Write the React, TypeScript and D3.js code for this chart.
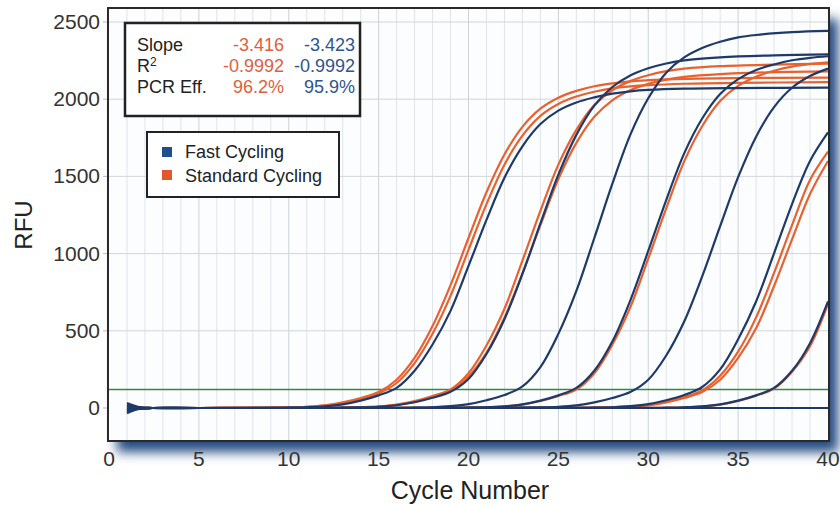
import React, { useEffect, useRef } from "react";
import * as d3 from "d3";

// axis ticks
const xTicks = [0, 5, 10, 15, 20, 25, 30, 35, 40];
const yTicks = [0, 500, 1000, 1500, 2000, 2500];
const thresholdRfu = 120;

// amplification curves, [cycle, RFU]
const fast1 = [[1, 32], [1.6, 8], [2.4, 0], [5, 0], [8, 1], [9, 1], [10, 2], [11, 5], [12, 11], [13, 24], [14, 48], [15, 82], [16, 130], [17, 241], [18, 411], [19, 629], [20, 920], [21, 1218], [22, 1491], [23, 1695], [24, 1839], [25, 1926], [26, 1979], [27, 2012], [28, 2036], [29, 2051], [30, 2060], [32, 2068], [35, 2072], [40, 2075]];
const fast2 = [[1, 20], [1.6, 5], [2.4, 0], [5, 0], [12, 1], [13, 2], [14, 4], [15, 8], [16, 18], [17, 37], [18, 66], [19, 105], [20, 188], [21, 350], [22, 575], [23, 868], [24, 1195], [25, 1511], [26, 1769], [27, 1958], [28, 2079], [29, 2154], [30, 2200], [31, 2231], [32, 2252], [34, 2271], [37, 2284], [40, 2290]];
const fast3 = [[1, 8], [1.6, 2], [2.4, 0], [5, 0], [16, 1], [17, 2], [18, 5], [19, 12], [20, 25], [21, 50], [22, 84], [23, 140], [24, 265], [25, 480], [26, 758], [27, 1101], [28, 1451], [29, 1769], [30, 2006], [31, 2172], [32, 2271], [33, 2332], [34, 2372], [35, 2400], [36, 2416], [38, 2434], [40, 2442]];
const fast4 = [[1, -6], [1.6, -2], [2.4, 0], [5, 0], [19, 1], [20, 2], [21, 5], [22, 11], [23, 24], [24, 48], [25, 82], [26, 130], [27, 241], [28, 430], [29, 696], [30, 1017], [31, 1347], [32, 1649], [33, 1875], [34, 2034], [35, 2130], [36, 2189], [37, 2225], [38, 2252], [39, 2268], [40, 2278]];
const fast5 = [[1, -16], [1.6, -4], [2.4, 0], [5, 0], [22, 1], [23, 2], [24, 4], [25, 8], [26, 17], [27, 36], [28, 65], [29, 103], [30, 183], [31, 340], [32, 560], [33, 852], [34, 1178], [35, 1495], [36, 1757], [37, 1949], [38, 2074], [39, 2150], [40, 2198]];
const fast6 = [[1, -26], [1.6, -6], [2.4, 0], [5, 0], [26, 1], [27, 2], [28, 5], [29, 12], [30, 25], [31, 50], [32, 84], [33, 136], [34, 250], [35, 445], [36, 690], [37, 1002], [38, 1321], [39, 1600], [40, 1785]];
const fast7 = [[1, -34], [1.6, -8], [2.4, 0], [5, 0], [30, 1], [31, 2], [32, 5], [33, 11], [34, 24], [35, 48], [36, 82], [37, 130], [38, 241], [39, 420], [40, 690]];
const fastNtc = [[1, -14], [1.6, -3], [2.4, 0], [5, 0], [20, 0], [40, 0]];

const standard1a = [[1, 14], [1.6, 3], [2.4, 0], [5, 0], [8, 1], [9, 2], [10, 4], [11, 8], [12, 17], [13, 36], [14, 65], [15, 103], [16, 183], [17, 324], [18, 531], [19, 796], [20, 1101], [21, 1397], [22, 1642], [23, 1821], [24, 1939], [25, 2010], [26, 2054], [27, 2084], [28, 2103], [29, 2116], [30, 2123], [32, 2132], [35, 2137], [40, 2140]];
const standard1b = [[1, 6], [1.6, 1], [2.4, 0], [5, 0], [8, 1], [9, 1], [10, 3], [11, 7], [12, 15], [13, 31], [14, 58], [15, 95], [16, 162], [17, 291], [18, 481], [19, 726], [20, 1024], [21, 1320], [22, 1576], [23, 1764], [24, 1892], [25, 1969], [26, 2017], [27, 2048], [28, 2070], [29, 2083], [30, 2091], [32, 2100], [35, 2106], [40, 2110]];
const standard2a = [[1, 4], [1.6, 1], [2.4, 0], [5, 0], [12, 1], [13, 2], [14, 5], [15, 10], [16, 22], [17, 45], [18, 78], [19, 120], [20, 225], [21, 405], [22, 643], [23, 954], [24, 1276], [25, 1576], [26, 1801], [27, 1962], [28, 2058], [29, 2117], [30, 2155], [31, 2182], [32, 2198], [34, 2214], [37, 2224], [40, 2230]];
const standard2b = [[1, -4], [1.6, -1], [2.4, 0], [5, 0], [12, 1], [13, 2], [14, 4], [15, 8], [16, 20], [17, 40], [18, 71], [19, 112], [20, 204], [21, 357], [22, 585], [23, 872], [24, 1184], [25, 1482], [26, 1717], [27, 1886], [28, 1993], [29, 2058], [30, 2099], [31, 2127], [32, 2145], [34, 2163], [37, 2175], [40, 2180]];
const standard4 = [[1, -8], [1.6, -2], [2.4, 0], [5, 0], [19, 1], [20, 2], [21, 5], [22, 10], [23, 22], [24, 45], [25, 78], [26, 120], [27, 225], [28, 410], [29, 652], [30, 967], [31, 1293], [32, 1597], [33, 1825], [34, 1988], [35, 2086], [36, 2146], [37, 2184], [38, 2211], [39, 2227], [40, 2238]];
const standard6a = [[1, -10], [1.6, -2], [2.4, 0], [5, 0], [26, 1], [27, 2], [28, 5], [29, 10], [30, 20], [31, 42], [32, 72], [33, 114], [34, 209], [35, 365], [36, 587], [37, 875], [38, 1184], [39, 1477], [40, 1660]];
const standard6b = [[1, 10], [1.6, 2], [2.4, 0], [5, 0], [26, 1], [27, 2], [28, 4], [29, 8], [30, 17], [31, 36], [32, 65], [33, 103], [34, 183], [35, 324], [36, 516], [37, 790], [38, 1092], [39, 1386], [40, 1600]];
const standard7 = [[1, -20], [1.6, -5], [2.4, 0], [5, 0], [29, 1], [31, 2], [32, 4], [33, 10], [34, 22], [35, 46], [36, 80], [37, 126], [38, 235], [39, 400], [40, 675]];

const fastCurves = [fastNtc, fast1, fast2, fast3, fast4, fast5, fast6, fast7];
const standardCurves = [standard1a, standard1b, standard2a, standard2b, standard4, standard6a, standard6b, standard7];

// stats table + legend
const statLabels = ["Slope", "R", "PCR Eff."];
const standardStats = ["-3.416", "-0.9992", "96.2%"];
const fastStats = ["-3.423", "-0.9992", "95.9%"];
const legendLabels = ["Fast Cycling", "Standard Cycling"];

const BLUE = "#1f3a69";
const ORANGE = "#e8622f";
const FONT = "'Liberation Sans', Arial, sans-serif";

export default function App() {
  const ref = useRef<SVGSVGElement>(null);

  useEffect(() => {
    const width = 840;
    const height = 505;
    const frame = { left: 108, top: 8, right: 829, bottom: 441 };

    const svg = d3.select(ref.current).attr("width", width).attr("height", height);
    svg.selectAll("*").remove();

    const x = d3.scaleLinear().domain([0, 40]).range([109, 828]);
    const y = d3.scaleLinear().domain([0, 2500]).range([408, 22]);

    const defs = svg.append("defs");
    defs.append("filter").attr("id", "blur").attr("x", "-10%").attr("y", "-10%").attr("width", "130%").attr("height", "140%")
      .append("feGaussianBlur").attr("stdDeviation", 6);
    defs.append("clipPath").attr("id", "plotclip")
      .append("rect").attr("x", frame.left).attr("y", frame.top)
      .attr("width", frame.right - frame.left).attr("height", frame.bottom - frame.top);

    // drop shadow behind the plot frame
    svg.append("rect")
      .attr("x", frame.left + 9).attr("y", frame.top + 11)
      .attr("width", frame.right - frame.left).attr("height", frame.bottom - frame.top)
      .attr("fill", "#24487e")
      .attr("filter", "url(#blur)");

    svg.append("rect")
      .attr("x", frame.left).attr("y", frame.top)
      .attr("width", frame.right - frame.left).attr("height", frame.bottom - frame.top)
      .attr("fill", "#fbfdff");

    // grid
    const grid = svg.append("g").attr("clip-path", "url(#plotclip)");
    grid.selectAll("line.v").data(d3.range(1, 40)).enter().append("line")
      .attr("x1", d => x(d)).attr("x2", d => x(d))
      .attr("y1", frame.top).attr("y2", frame.bottom)
      .attr("stroke", d => (d % 5 === 0 ? "#cdd2d9" : "#e0e4ea")).attr("stroke-width", 1);
    grid.selectAll("line.h").data(yTicks.filter(d => d > 0)).enter().append("line")
      .attr("x1", frame.left).attr("x2", frame.right)
      .attr("y1", d => y(d)).attr("y2", d => y(d))
      .attr("stroke", "#d3d6da").attr("stroke-width", 1);

    // y ticks outside
    svg.selectAll("line.yt").data(yTicks).enter().append("line")
      .attr("x1", frame.left - 5).attr("x2", frame.left)
      .attr("y1", d => y(d)).attr("y2", d => y(d))
      .attr("stroke", "#bbb");

    const curves = svg.append("g").attr("clip-path", "url(#plotclip)").attr("fill", "none");

    // threshold line
    curves.append("line")
      .attr("x1", frame.left).attr("x2", frame.right)
      .attr("y1", y(thresholdRfu)).attr("y2", y(thresholdRfu))
      .attr("stroke", "#338a3a").attr("stroke-width", 1.6);

    const line = d3.line<number[]>().x(d => x(d[0])).y(d => y(d[1])).curve(d3.curveCatmullRom.alpha(0.5));

    curves.selectAll("path.std").data(standardCurves).enter().append("path")
      .attr("d", d => line(d))
      .attr("stroke", ORANGE).attr("stroke-width", 2.2);
    curves.selectAll("path.fast").data(fastCurves).enter().append("path")
      .attr("d", d => line(d))
      .attr("stroke", BLUE).attr("stroke-width", 2.2);

    // frame border
    svg.append("rect")
      .attr("x", frame.left).attr("y", frame.top)
      .attr("width", frame.right - frame.left).attr("height", frame.bottom - frame.top)
      .attr("fill", "none").attr("stroke", "#2a2a2a").attr("stroke-width", 2);

    // tick labels
    svg.selectAll("text.yl").data(yTicks).enter().append("text")
      .attr("x", 100).attr("y", d => y(d) + 7)
      .attr("text-anchor", "end")
      .style("font-family", FONT).style("font-size", "21px").attr("fill", "#333")
      .text(d => d);
    svg.selectAll("text.xl").data(xTicks).enter().append("text")
      .attr("x", d => x(d)).attr("y", 466)
      .attr("text-anchor", "middle")
      .style("font-family", FONT).style("font-size", "21px").attr("fill", "#333")
      .text(d => d);

    // axis titles
    svg.append("text")
      .attr("x", 470).attr("y", 499)
      .attr("text-anchor", "middle")
      .style("font-family", FONT).style("font-size", "25px").attr("fill", "#222")
      .text("Cycle Number");
    svg.append("text")
      .attr("transform", "translate(32,225) rotate(-90)")
      .attr("text-anchor", "middle")
      .style("font-family", FONT).style("font-size", "24px").attr("fill", "#222")
      .text("RFU");

    // stats box
    svg.append("rect")
      .attr("x", 125).attr("y", 23).attr("width", 235).attr("height", 93)
      .attr("fill", "#fff").attr("stroke", "#222").attr("stroke-width", 2.5);
    const rowY = [51, 72, 93];
    statLabels.forEach((lab, i) => {
      const t = svg.append("text")
        .attr("x", 137).attr("y", rowY[i])
        .style("font-family", FONT).style("font-size", "18px").attr("fill", "#222")
        .text(lab);
      if (lab === "R") {
        t.append("tspan").attr("dy", -6).style("font-size", "12px").text("2");
      }
      svg.append("text")
        .attr("x", 284).attr("y", rowY[i]).attr("text-anchor", "end")
        .style("font-family", FONT).style("font-size", "18px").attr("fill", "#e0603a")
        .text(standardStats[i]);
      svg.append("text")
        .attr("x", 355).attr("y", rowY[i]).attr("text-anchor", "end")
        .style("font-family", FONT).style("font-size", "18px").attr("fill", "#2d5590")
        .text(fastStats[i]);
    });

    // legend
    svg.append("rect")
      .attr("x", 147).attr("y", 132).attr("width", 192).attr("height", 65)
      .attr("fill", "#fff").attr("stroke", "#222").attr("stroke-width", 2);
    const legendColors = ["#1d4f8c", "#e4572e"];
    legendLabels.forEach((lab, i) => {
      svg.append("rect")
        .attr("x", 162).attr("y", 147 + i * 23).attr("width", 10).attr("height", 10)
        .attr("fill", legendColors[i]);
      svg.append("text")
        .attr("x", 185).attr("y", 158 + i * 24)
        .style("font-family", FONT).style("font-size", "18px").attr("fill", "#222")
        .text(lab);
    });
  }, []);

  return (
    <svg ref={ref} style={{ position: "absolute", left: 0, top: 0, background: "#fff" }} />
  );
}
